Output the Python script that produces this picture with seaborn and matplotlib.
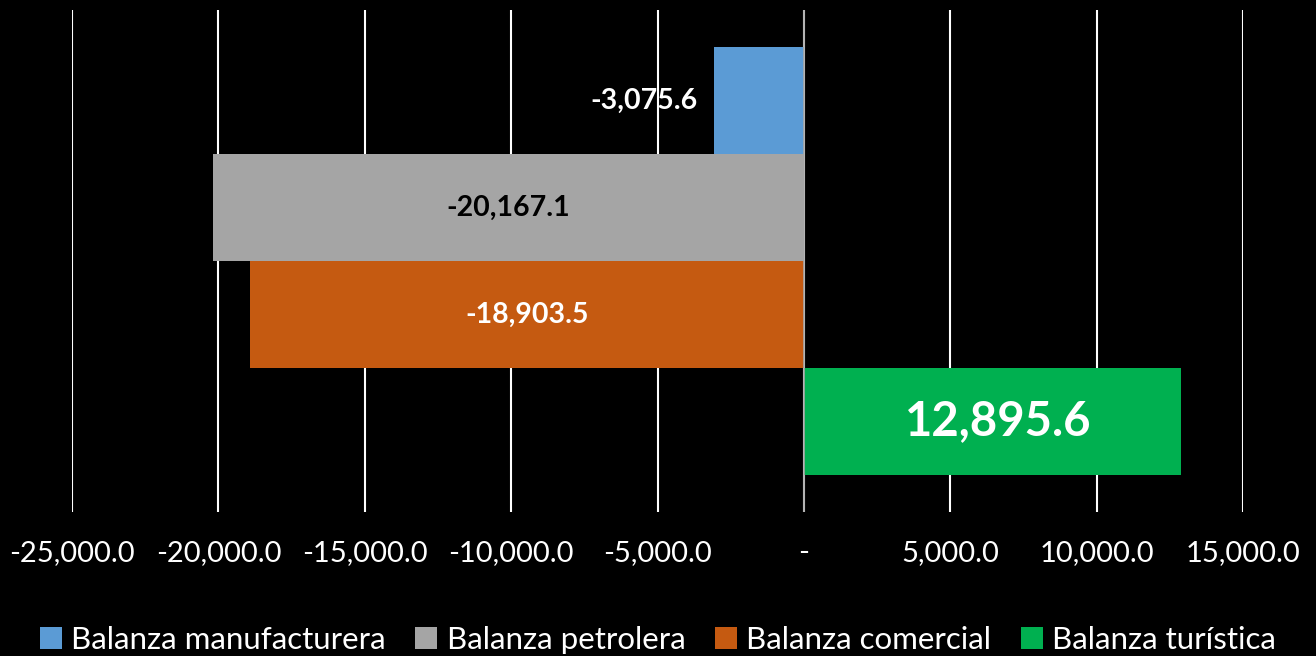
import matplotlib
matplotlib.use("Agg")
import matplotlib.pyplot as plt
from matplotlib import font_manager
from matplotlib.patches import Patch
import seaborn as sns
import pandas as pd

series = ["Balanza manufacturera", "Balanza petrolera", "Balanza comercial", "Balanza turística"]
values = [-3075.6, -20167.1, -18903.5, 12895.6]
colors = ["#5B9BD5", "#A5A5A5", "#C55A11", "#00B050"]
label_colors = ["white", "black", "white", "white"]
tick_values = [-25000, -20000, -15000, -10000, -5000, 0, 5000, 10000, 15000]
tick_labels = ["-25,000.0", "-20,000.0", "-15,000.0", "-10,000.0", "-5,000.0", "-",
               "5,000.0", "10,000.0", "15,000.0"]

sns.set_theme(style="white")
names = {f.name for f in font_manager.fontManager.ttflist}
fam = "Liberation Sans Narrow" if "Liberation Sans Narrow" in names else "Lato"
plt.rcParams["font.family"] = [fam, "DejaVu Sans"]

df = pd.DataFrame({"serie": series, "valor": values})

fig = plt.figure(figsize=(13.16, 6.56), dpi=100, facecolor="black")
ax = fig.add_axes([72/1316, (656-512)/656, (1243-72)/1316, 502/656])
ax.set_facecolor("black")

ax.set_axisbelow(True)
for t in tick_values:
    ax.axvline(t, color="white", lw=1.5, zorder=0)

sns.barplot(data=df, x="valor", y="serie", hue="serie", palette=colors,
            width=1.0, orient="h", legend=False, ax=ax, saturation=1, zorder=2,
            linewidth=0, edgecolor="none")
ax.axvline(0, color="#A6A6A6", lw=1.2, zorder=3)

ax.set_xlim(-25000, 15000)
ax.set_ylim(3.85, -0.85)
ax.set_xticks(tick_values)
ax.set_xticklabels(tick_labels, color="white", fontsize=21)
ax.tick_params(axis="x", length=0, pad=20)
ax.set_yticks([])
ax.set_xlabel("")
ax.set_ylabel("")
for s in ax.spines.values():
    s.set_visible(False)

# data labels
for i, (v, lc) in enumerate(zip(values, label_colors)):
    txt = f"{v:,.1f}"
    if i == 0:
        ax.text(v - 550, i, txt, color=lc, fontsize=20.5, fontweight="bold",
                ha="right", va="center", zorder=4)
    elif i == 3:
        ax.text(v / 2 + 200, i, txt, color=lc, fontsize=34, fontweight="bold",
                ha="center", va="center", zorder=4)
    else:
        ax.text(v / 2, i, txt, color=lc, fontsize=20.5, fontweight="bold",
                ha="center", va="center", zorder=4)

handles = [Patch(facecolor=c, edgecolor="none") for c in colors]
leg = fig.legend(handles, series, loc="center", bbox_to_anchor=(0.5, 0.024), ncol=4,
                 frameon=False, fontsize=22.5, handlelength=0.7, handleheight=0.7,
                 handletextpad=0.3, columnspacing=0.95, borderaxespad=0)
for t in leg.get_texts():
    t.set_color("white")

fig.savefig("out.png", dpi=100, facecolor="black")
